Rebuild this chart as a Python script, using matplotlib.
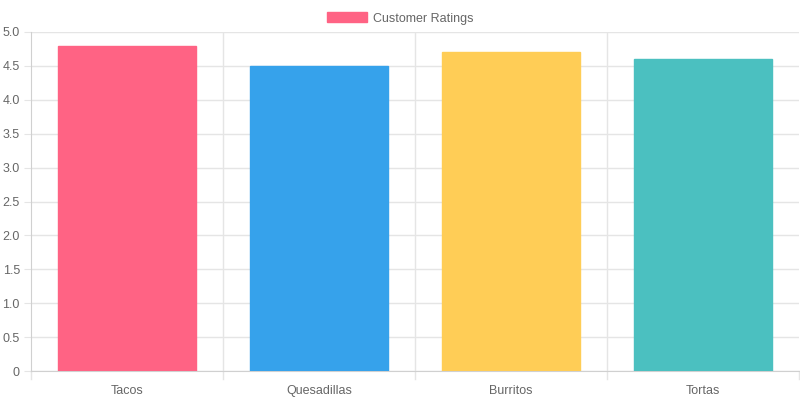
import matplotlib.pyplot as plt
from matplotlib.patches import Patch

categories = ["Tacos", "Quesadillas", "Burritos", "Tortas"]
ratings = [4.8, 4.5, 4.7, 4.6]
colors = ["#FF6384", "#36A2EB", "#FFCD56", "#4BC0C0"]
yticks = [0, 0.5, 1.0, 1.5, 2.0, 2.5, 3.0, 3.5, 4.0, 4.5, 5.0]
ylabels = ["0", "0.5", "1.0", "1.5", "2.0", "2.5", "3.0", "3.5", "4.0", "4.5", "5.0"]

plt.rcParams['font.family'] = ['Liberation Sans', 'DejaVu Sans']

fig = plt.figure(figsize=(8, 4), dpi=100)
ax = fig.add_axes([31 / 800, 1 - 371 / 400, 768 / 800, 339 / 400])

x = list(range(len(categories)))
ax.bar(x, ratings, width=0.72, color=colors, edgecolor=colors, linewidth=1, zorder=3)

ax.set_xlim(-0.5, len(categories) - 0.5)
ax.set_ylim(0, 5)
ax.set_yticks(yticks)
ax.set_yticklabels(ylabels)
ax.set_xticks(x)
ax.set_xticklabels(categories)

# grid: horizontal at ticks, vertical between categories
grid_c = "#e5e5e5"
for y in yticks:
    ax.axhline(y, color=grid_c, linewidth=1, zorder=1)
for b in [0.5, 1.5, 2.5]:
    ax.axvline(b, color=grid_c, linewidth=1, zorder=1)
for b in [-0.5, 0.5, 1.5, 2.5, 3.5]:
    ax.plot([b, b], [0, -0.12], color=grid_c, linewidth=1, clip_on=False, zorder=1)

for s in ["top", "right"]:
    ax.spines[s].set_visible(False)
ax.spines["left"].set_color("#d0d0d0")
ax.spines["bottom"].set_color("#d0d0d0")
ax.tick_params(axis="y", length=5, color=grid_c, labelcolor="#666666", labelsize=9, pad=3)
ax.tick_params(axis="x", length=0, labelcolor="#666666", labelsize=9, pad=10)

handles = [Patch(facecolor="#FF6384", edgecolor="#FF6384")]
fig.legend(handles, ["Customer Ratings"], loc="upper center", bbox_to_anchor=(0.5, 0.998),
           frameon=False, fontsize=9, labelcolor="#666666", handlelength=3.2, handleheight=0.9,
           handletextpad=0.5)

fig.savefig("out.png", dpi=100)
